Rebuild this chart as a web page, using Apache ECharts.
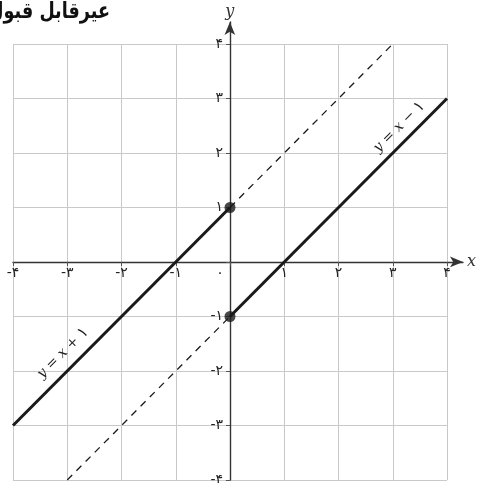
<!DOCTYPE html>
<html>
<head>
<meta charset="utf-8">
<script src="https://cdn.jsdelivr.net/npm/echarts@6/dist/echarts.min.js"></script>
<style>
  html, body { margin: 0; padding: 0; background: #fff; }
</style>
</head>
<body>
<div id="main" style="width:480px;height:483px;"></div>
<script>
// tick labels in Persian digits, from -4 to 4
const tickValues = [-4, -3, -2, -1, 0, 1, 2, 3, 4]
const tickLabels = ['-۴', '-۳', '-۲', '-۱', '۰', '۱', '۲', '۳', '۴']

// y = x + 1 : solid for x <= 0, dashed beyond
const plusOneSolid = [[-4, -3], [0, 1]]
const plusOneDashed = [[0, 1], [3, 4]]
// y = x - 1 : solid for x >= 0, dashed before
const minusOneSolid = [[0, -1], [4, 3]]
const minusOneDashed = [[-3, -4], [0, -1]]
// filled end points on the y axis
const endPoints = [[0, 1], [0, -1]]

const titleText = 'عیرقابل قبول'
const ink = '#1a1a1a'
const gridGray = '#c9c9c9'
const digitFont = 'DejaVu Sans'
const mathFont = 'DejaVu Serif'

function label (value) {
    let i = tickValues.indexOf(value)
    return i < 0 ? '' : tickLabels[i]
}

function lineLabel (text) {
    return {
        show: true,
        position: 'inside',
        rotate: 45,
        formatter: text,
        fontFamily: mathFont,
        fontSize: 14,
        color: '#222',
        rich: {
            i: { fontFamily: mathFont, fontStyle: 'italic', fontSize: 14, color: '#222' },
            d: { fontFamily: digitFont, fontSize: 16, color: '#222' },
        },
    }
}

let option = {
    animation: false,
    backgroundColor: '#ffffff',
    graphic: [
        {
            type: 'text',
            x: 110,
            y: 1,
            scaleX: 0.8,
            style: {
                text: titleText,
                font: 'bold 22px "DejaVu Sans"',
                textAlign: 'right',
                textVerticalAlign: 'top',
                fill: '#111',
            },
        },
    ],
    grid: [
        // exact -4..4 box: grid lines, ticks, labels
        { left: 13, right: 33, top: 44, bottom: 3, outerBoundsMode: 'none', containLabel: false },
        // slightly larger box for axis lines with arrows
        { left: 13, right: 17, top: 22, bottom: 3, outerBoundsMode: 'none', containLabel: false },
    ],
    xAxis: [
        {
            type: 'value',
            gridIndex: 0,
            min: -4,
            max: 4,
            interval: 1,
            position: 'bottom',
            offset: -218,
            axisLine: { show: false, onZero: false },
            axisTick: { show: true, length: 4, lineStyle: { color: '#555', width: 1 } },
            splitLine: { show: true, lineStyle: { color: gridGray, width: 1 } },
            axisLabel: {
                margin: 4,
                fontFamily: digitFont,
                fontSize: 14,
                color: '#222',
                formatter: function (value) {
                    if (value === 0) return '{z|' + label(value) + '}'
                    return label(value)
                },
                rich: {
                    z: { fontFamily: digitFont, fontSize: 14, color: '#222', padding: [0, 20, 0, 0] },
                },
            },
        },
        {
            type: 'value',
            gridIndex: 1,
            min: -4,
            max: 4.3,
            axisLine: {
                show: true,
                onZero: true,
                symbol: ['none', 'arrow'],
                symbolSize: [8, 13],
                lineStyle: { color: '#333', width: 1.4 },
            },
            axisTick: { show: false },
            splitLine: { show: false },
            axisLabel: { show: false },
            name: 'x',
            nameLocation: 'end',
            nameGap: 4,
            nameTextStyle: { fontFamily: mathFont, fontStyle: 'italic', fontSize: 16, color: '#333' },
        },
    ],
    yAxis: [
        {
            type: 'value',
            gridIndex: 0,
            min: -4,
            max: 4,
            interval: 1,
            position: 'left',
            offset: -217,
            axisLine: { show: false, onZero: false },
            axisTick: { show: true, length: 4, lineStyle: { color: '#555', width: 1 } },
            splitLine: { show: true, lineStyle: { color: gridGray, width: 1 } },
            axisLabel: {
                margin: 7,
                fontFamily: digitFont,
                fontSize: 14,
                color: '#222',
                formatter: function (value) {
                    return value === 0 ? '' : label(value)
                },
            },
        },
        {
            type: 'value',
            gridIndex: 1,
            min: -4,
            max: 4.4,
            axisLine: {
                show: true,
                onZero: true,
                symbol: ['none', 'arrow'],
                symbolSize: [8, 13],
                lineStyle: { color: '#333', width: 1.4 },
            },
            axisTick: { show: false },
            splitLine: { show: false },
            axisLabel: { show: false },
            name: 'y',
            nameLocation: 'end',
            nameGap: 2,
            nameTextStyle: { fontFamily: mathFont, fontStyle: 'italic', fontSize: 16, color: '#333' },
        },
    ],
    series: [
        {
            name: 'y = x + 1',
            type: 'line',
            xAxisIndex: 0,
            yAxisIndex: 0,
            data: plusOneSolid,
            showSymbol: false,
            lineStyle: { color: ink, width: 3 },
            z: 5,
            markPoint: {
                symbol: 'circle',
                symbolSize: 0,
                data: [{ coord: [-3.08, -1.67] }],
                label: lineLabel('{i|y} = {i|x} + {d|۱}'),
            },
        },
        {
            name: 'y = x + 1 (dashed)',
            type: 'line',
            xAxisIndex: 0,
            yAxisIndex: 0,
            data: plusOneDashed,
            showSymbol: false,
            lineStyle: { color: ink, width: 1.3, type: [7, 6] },
            z: 4,
        },
        {
            name: 'y = x - 1',
            type: 'line',
            xAxisIndex: 0,
            yAxisIndex: 0,
            data: minusOneSolid,
            showSymbol: false,
            lineStyle: { color: ink, width: 3 },
            z: 5,
            markPoint: {
                symbol: 'circle',
                symbolSize: 0,
                data: [{ coord: [3.12, 2.48] }],
                label: lineLabel('{i|y} = {i|x} − {d|۱}'),
            },
        },
        {
            name: 'y = x - 1 (dashed)',
            type: 'line',
            xAxisIndex: 0,
            yAxisIndex: 0,
            data: minusOneDashed,
            showSymbol: false,
            lineStyle: { color: ink, width: 1.3, type: [7, 6] },
            z: 4,
        },
        {
            name: 'end points',
            type: 'scatter',
            xAxisIndex: 0,
            yAxisIndex: 0,
            data: endPoints,
            symbolSize: 11,
            itemStyle: { color: ink },
            z: 6,
        },
    ],
}

let myChart = echarts.init(document.getElementById('main'))
myChart.setOption(option)
</script>
</body>
</html>
